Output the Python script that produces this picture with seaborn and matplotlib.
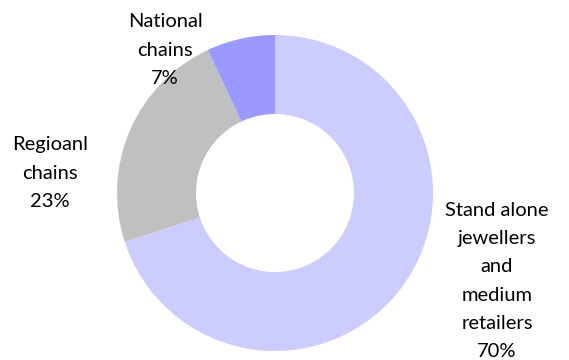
import matplotlib
matplotlib.use("Agg")
import matplotlib.pyplot as plt
import seaborn as sns

categories = ["Stand alone\njewellers\nand\nmedium\nretailers", "Regioanl\nchains", "National\nchains"]
shares = [70, 23, 7]
colors = ["#CCCCFF", "#C0C0C0", "#9999FF"]

sns.set_theme(style="white")
plt.rcParams['font.family'] = ['Lato', 'DejaVu Sans']

W, H = 569, 360
fig = plt.figure(figsize=(W / 100, H / 100), dpi=100)
cx, cy, r = 275, 193, 158
ax = fig.add_axes([(cx - r) / W, 1 - (cy + r) / H, 2 * r / W, 2 * r / H])
ax.pie(shares, colors=colors, startangle=90, counterclock=False,
       radius=1.0, wedgeprops=dict(width=0.5, linewidth=0))
ax.set_xlim(-1, 1)
ax.set_ylim(-1, 1)
ax.set_aspect("equal")
ax.axis("off")

label_pos = [(497, 281), (50, 173), (165, 50)]
for cat, val, (px, py) in zip(categories, shares, label_pos):
    fig.text(px / W, 1 - py / H, f"{cat}\n{val}%", ha="center", va="center",
             fontsize=14.5, linespacing=1.8, color="black")

fig.savefig("out.png", dpi=100)
